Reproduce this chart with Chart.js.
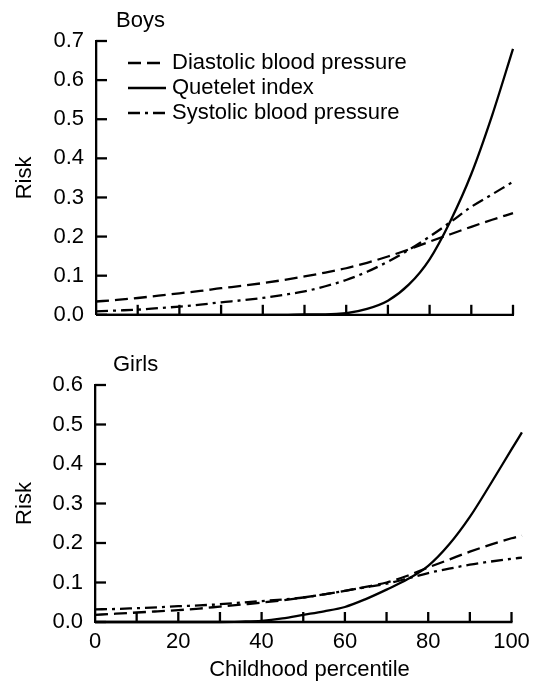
<!DOCTYPE html>
<html>
<head>
<meta charset="utf-8">
<script src="https://cdn.jsdelivr.net/npm/chart.js@4.4.1/dist/chart.umd.min.js"></script>
<style>
  html, body { margin: 0; padding: 0; background: #fff; }
  #wrap { position: relative; width: 540px; height: 683px; }
  #boysChart { position: absolute; left: 0; top: 0; }
  #girlsChart { position: absolute; left: 0; top: 340px; }
</style>
</head>
<body>
<div id="wrap">
  <canvas id="boysChart" width="540" height="340"></canvas>
  <canvas id="girlsChart" width="540" height="343"></canvas>
</div>
<script>
// percentiles
const boysPct = [0, 5, 10, 15, 20, 25, 30, 35, 40, 45, 50, 55, 60, 65, 70, 75, 80, 85, 90, 95, 100];
const boysDiastolic = [0.034, 0.038, 0.043, 0.049, 0.055, 0.061, 0.068, 0.074, 0.081, 0.089, 0.098, 0.108, 0.119, 0.133, 0.149, 0.167, 0.187, 0.206, 0.225, 0.243, 0.26];
const boysQuetelet = [0, 0, 0, 0, 0, 0, 0, 0, 0, 0, 0.001, 0.001, 0.004, 0.015, 0.036, 0.077, 0.142, 0.24, 0.36, 0.51, 0.68];
const boysSystolic = [0.009, 0.011, 0.013, 0.017, 0.021, 0.026, 0.032, 0.037, 0.043, 0.051, 0.06, 0.073, 0.089, 0.11, 0.136, 0.166, 0.2, 0.237, 0.276, 0.308, 0.34];

const girlsPct = [0, 5, 10, 15, 20, 25, 30, 35, 40, 45, 50, 55, 60, 65, 70, 75, 80, 85, 90, 95, 100, 102.5];
const girlsDiastolic = [0.018, 0.021, 0.024, 0.027, 0.03, 0.034, 0.039, 0.044, 0.049, 0.055, 0.062, 0.07, 0.079, 0.089, 0.1, 0.117, 0.138, 0.158, 0.178, 0.196, 0.212, 0.219];
const girlsQuetelet = [0, 0, 0, 0, 0, 0, 0, 0.001, 0.003, 0.009, 0.018, 0.027, 0.038, 0.058, 0.082, 0.108, 0.142, 0.196, 0.266, 0.35, 0.437, 0.48];
const girlsSystolic = [0.032, 0.033, 0.035, 0.037, 0.04, 0.042, 0.045, 0.049, 0.053, 0.057, 0.062, 0.07, 0.079, 0.088, 0.097, 0.11, 0.124, 0.135, 0.145, 0.153, 0.16, 0.163];

const seriesNames = ['Diastolic blood pressure', 'Quetelet index', 'Systolic blood pressure'];
const xTicks = [0, 20, 40, 60, 80, 100];

const FONT = '"Liberation Sans", Arial, sans-serif';
Chart.defaults.font.family = FONT;
Chart.defaults.font.size = 22;
Chart.defaults.color = '#000';

const dashes = [[13, 6], [], [12, 5, 3, 5]];

function pts(xs, ys) {
  return xs.map((x, i) => ({ x: x, y: ys[i] }));
}

function makeSets(xs, dia, que, sys) {
  return [dia, que, sys].map((ys, i) => ({
    label: seriesNames[i],
    data: pts(xs, ys),
    borderColor: '#000',
    borderWidth: 2.3,
    borderDash: dashes[i],
    pointRadius: 0,
    fill: false,
    cubicInterpolationMode: 'monotone',
    clip: false
  }));
}

// x axis line, inward tick marks, panel title and legend
const extras = {
  id: 'extras',
  afterDraw(chart, args, opts) {
    const ctx = chart.ctx;
    const a = chart.chartArea;
    const xs = chart.scales.x, ys = chart.scales.y;
    ctx.save();
    ctx.strokeStyle = '#000';
    ctx.lineWidth = 2.3;
    ctx.setLineDash([]);
    ctx.beginPath();
    ctx.moveTo(a.left, a.bottom);
    ctx.lineTo(xs.getPixelForValue(100) + 1, a.bottom);
    ctx.stroke();
    ys.ticks.forEach(t => {
      const y = ys.getPixelForValue(t.value);
      ctx.beginPath(); ctx.moveTo(a.left, y); ctx.lineTo(a.left + 11, y); ctx.stroke();
    });
    for (let v = 10; v <= 100; v += 10) {
      const x = xs.getPixelForValue(v);
      ctx.beginPath(); ctx.moveTo(x, a.bottom); ctx.lineTo(x, a.bottom - 10); ctx.stroke();
    }
    ctx.fillStyle = '#000';
    ctx.font = '22px ' + FONT;
    ctx.textBaseline = 'middle';
    ctx.textAlign = 'left';
    ctx.fillText(opts.title, opts.titleX, opts.titleY);
    if (opts.legend) {
      chart.data.datasets.forEach((ds, i) => {
        const y = 63 + i * 25;
        ctx.setLineDash(ds.borderDash);
        ctx.beginPath(); ctx.moveTo(128, y); ctx.lineTo(166, y); ctx.stroke();
        ctx.setLineDash([]);
        ctx.fillText(ds.label, 172, y);
      });
    }
    ctx.restore();
  }
};

function makeChart(id, xs, dia, que, sys, cfg) {
  return new Chart(document.getElementById(id), {
    type: 'line',
    data: { datasets: makeSets(xs, dia, que, sys) },
    plugins: [extras],
    options: {
      responsive: false,
      animation: false,
      devicePixelRatio: 1,
      layout: { padding: { left: 0, right: cfg.padRight, top: cfg.padTop, bottom: 0 } },
      plugins: {
        legend: { display: false },
        tooltip: { enabled: false },
        extras: { title: cfg.title, titleX: cfg.titleX, titleY: cfg.titleY, legend: cfg.legend }
      },
      scales: {
        x: {
          type: 'linear', min: 0, max: cfg.xMax,
          border: { display: false },
          grid: { display: false, drawTicks: false },
          afterBuildTicks: s => { s.ticks = xTicks.map(v => ({ value: v })); },
          ticks: {
            display: cfg.xLabels,
            padding: 7,
            maxRotation: 0,
            autoSkip: false,
            callback: v => String(v)
          },
          title: {
            display: cfg.xLabels,
            text: 'Childhood percentile',
            padding: { top: 2, bottom: 0 }
          },
          afterFit: s => { s.height = cfg.xHeight; }
        },
        y: {
          min: 0, max: cfg.yMax,
          border: { display: true, color: '#000', width: 2.3 },
          grid: { display: false, drawTicks: false },
          ticks: { stepSize: 0.1, padding: 12, callback: v => v.toFixed(1) },
          title: { display: true, text: 'Risk', padding: { top: 12, bottom: 0 } },
          afterFit: s => { s.width = cfg.yWidth; }
        }
      }
    }
  });
}

makeChart('boysChart', boysPct, boysDiastolic, boysQuetelet, boysSystolic, {
  yMax: 0.7, xMax: 100, padRight: 27, padTop: 41, xHeight: 22, yWidth: 96,
  xLabels: false, title: 'Boys', titleX: 116, titleY: 21, legend: true
});

makeChart('girlsChart', girlsPct, girlsDiastolic, girlsQuetelet, girlsSystolic, {
  yMax: 0.6, xMax: 103, padRight: 16, padTop: 45, xHeight: 61, yWidth: 95,
  xLabels: true, title: 'Girls', titleX: 113, titleY: 25, legend: false
});
</script>
</body>
</html>
